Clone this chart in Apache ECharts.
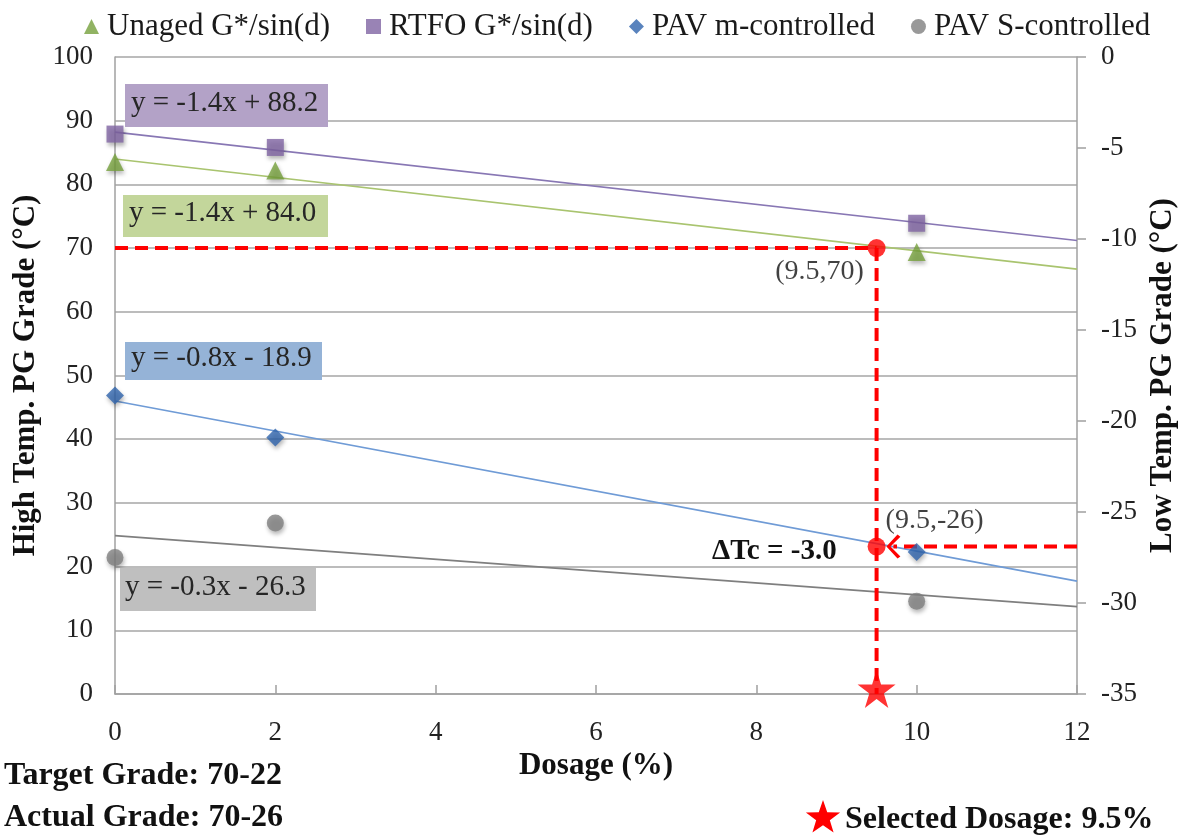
<!DOCTYPE html>
<html>
<head>
<meta charset="utf-8">
<script src="https://cdn.jsdelivr.net/npm/echarts@6/dist/echarts.min.js"></script>
<style>
html,body{margin:0;padding:0;background:#fff;}
#chart{width:1188px;height:836px;}
</style>
</head>
<body>
<div id="chart"></div>
<script>
// ---- data ----
const dosage = [0, 2, 10];
const unaged = [83.5, 82.2, 69.4];        // left axis, deg C
const rtfo = [87.9, 85.8, 73.9];          // left axis, deg C
const pavM = [-18.6, -20.9, -27.2];       // right axis, deg C
const pavS = [-27.5, -25.6, -29.9];       // right axis, deg C
const trendX = [0, 12];
const unagedTrend = [84.0, 66.7];
const rtfoTrend = [88.2, 71.2];
const pavMTrend = [-18.9, -28.8];
const pavSTrend = [-26.3, -30.2];
const selectedDosage = 9.5;
const targetHigh = 70;
const lowAtSelected = -26.9;
const arrowTipX = 9.71;
const xMax = 12;

const FONT = "'Liberation Serif','Times New Roman',serif";
const pair = (xs, ys) => xs.map((x, i) => [x, ys[i]]);
const STAR = 'path://M50,0 L61.2,34.5 L97.6,34.5 L68.2,55.9 L79.4,90.5 L50,69.1 L20.6,90.5 L31.8,55.9 L2.4,34.5 L38.8,34.5 Z';
const CHEV = 'path://M9.5,0 L12,2 L3.5,11 L12,20 L9.5,22 L0,11 Z';
const red = '#ff0000';
const shadow = {shadowBlur: 4, shadowColor: 'rgba(0,0,0,0.35)', shadowOffsetX: 1, shadowOffsetY: 3};

// star outline for the "Selected Dosage" annotation (decoration, not data)
function starPoints(cx, cy, R, r) {
  const pts = [];
  for (let i = 0; i < 10; i++) {
    const a = -Math.PI / 2 + i * Math.PI / 5;
    const rad = i % 2 === 0 ? R : r;
    pts.push([cx + rad * Math.cos(a), cy + rad * Math.sin(a)]);
  }
  return pts;
}

const chart = echarts.init(document.getElementById('chart'));
const option = {
  animation: false,
  backgroundColor: '#fff',
  textStyle: {fontFamily: FONT},
  grid: {left: 115, right: 111, top: 57, bottom: 142},
  legend: {
    left: 79, top: 6, itemGap: 36, itemWidth: 15, itemHeight: 15,
    itemStyle: {shadowBlur: 0, shadowOffsetX: 0, shadowOffsetY: 0},
    textStyle: {fontFamily: FONT, fontSize: 31, color: '#1a1a1a', padding: [0, 0, 0, 3]},
    data: ['Unaged G*/sin(d)', 'RTFO G*/sin(d)', 'PAV m-controlled', 'PAV S-controlled']
  },
  xAxis: {
    type: 'value', min: 0, max: xMax, interval: 2,
    name: 'Dosage (%)', nameLocation: 'middle', nameGap: 48,
    nameTextStyle: {fontFamily: FONT, fontSize: 31, fontWeight: 'bold', color: '#111'},
    axisLine: {lineStyle: {color: '#a0a0a0', width: 1.5}},
    axisTick: {show: true, inside: true, length: 9, lineStyle: {color: '#a0a0a0', width: 1.5}},
    axisLabel: {fontFamily: FONT, fontSize: 27, color: '#222', margin: 25},
    splitLine: {show: false}
  },
  yAxis: [{
    type: 'value', min: 0, max: 100, interval: 10, position: 'left',
    name: 'High Temp. PG Grade (°C)', nameLocation: 'middle', nameGap: 66,
    nameTextStyle: {fontFamily: FONT, fontSize: 31, fontWeight: 'bold', color: '#111'},
    axisLine: {show: true, lineStyle: {color: '#a0a0a0', width: 1.5}},
    axisTick: {show: false},
    axisLabel: {fontFamily: FONT, fontSize: 27, color: '#222', margin: 22},
    splitLine: {show: true, lineStyle: {color: '#a6a6a6', width: 1.5}}
  }, {
    type: 'value', min: -35, max: 0, interval: 5, position: 'right',
    name: 'Low Temp. PG Grade (°C)', nameLocation: 'middle', nameGap: 70,
    nameTextStyle: {fontFamily: FONT, fontSize: 31, fontWeight: 'bold', color: '#111'},
    axisLine: {show: true, lineStyle: {color: '#a0a0a0', width: 1.5}},
    axisTick: {show: true, length: 9, lineStyle: {color: '#a0a0a0', width: 1.5}},
    axisLabel: {fontFamily: FONT, fontSize: 27, color: '#222', margin: 24},
    splitLine: {show: false}
  }],
  series: [
    // trendlines
    {type: 'line', data: pair(trendX, rtfoTrend), symbol: 'none', silent: true, z: 2,
     lineStyle: {color: '#8877b4', width: 1.6}},
    {type: 'line', data: pair(trendX, unagedTrend), symbol: 'none', silent: true, z: 2,
     lineStyle: {color: '#a9c46f', width: 1.6}},
    {type: 'line', yAxisIndex: 1, data: pair(trendX, pavMTrend), symbol: 'none', silent: true, z: 2,
     lineStyle: {color: '#6f9bd6', width: 1.6}},
    {type: 'line', yAxisIndex: 1, data: pair(trendX, pavSTrend), symbol: 'none', silent: true, z: 2,
     lineStyle: {color: '#7f7f7f', width: 1.6}},
    // red guide lines
    {type: 'line', data: [[0, targetHigh], [selectedDosage, targetHigh]], symbol: 'none', z: 4,
     lineStyle: {color: red, width: 4, type: [13, 7]}},
    {type: 'line', data: [[selectedDosage, targetHigh], [selectedDosage, 0]], symbol: 'none', z: 4,
     lineStyle: {color: red, width: 4, type: [13, 7]}},
    {type: 'line', yAxisIndex: 1, z: 4,
     data: [{value: [xMax, lowAtSelected], symbol: 'none'},
            {value: [arrowTipX, lowAtSelected], symbol: CHEV, symbolSize: [14, 24]}],
     itemStyle: {color: red}, lineStyle: {color: red, width: 4, type: [13, 7]}},
    // scatter series
    {name: 'Unaged G*/sin(d)', type: 'scatter', data: pair(dosage, unaged), symbol: 'triangle', symbolSize: 18, z: 5,
     itemStyle: Object.assign({color: '#76a03c'}, shadow)},
    {name: 'RTFO G*/sin(d)', type: 'scatter', data: pair(dosage, rtfo), symbol: 'rect', symbolSize: 17, z: 5,
     itemStyle: Object.assign({color: '#8064a2'}, shadow)},
    {name: 'PAV m-controlled', type: 'scatter', yAxisIndex: 1, data: pair(dosage, pavM), symbol: 'diamond', symbolSize: 18, z: 5,
     itemStyle: Object.assign({color: '#2f64ad'}, shadow)},
    {name: 'PAV S-controlled', type: 'scatter', yAxisIndex: 1, data: pair(dosage, pavS), symbol: 'circle', symbolSize: 17, z: 5,
     itemStyle: Object.assign({color: '#808080'}, shadow)},
    // selected points
    {type: 'scatter', data: [[selectedDosage, targetHigh]], symbol: 'circle', symbolSize: 18, z: 6,
     itemStyle: {color: red},
     label: {show: true, position: 'bottom', offset: [-57, -4], formatter: '(9.5,70)',
             fontFamily: FONT, fontSize: 28, color: '#111'}},
    {type: 'scatter', yAxisIndex: 1, data: [[selectedDosage, lowAtSelected]], symbol: 'circle', symbolSize: 18, z: 6,
     itemStyle: {color: red},
     label: {show: true, position: 'top', offset: [58, 2], formatter: '(9.5,-26)',
             fontFamily: FONT, fontSize: 28, color: '#111'}},
    {type: 'scatter', data: [[selectedDosage, 0]], symbol: STAR, symbolSize: 38, symbolOffset: [0, -5], z: 7,
     itemStyle: {color: red}}
  ],
  graphic: [
    {type: 'rect', left: 125, top: 84, shape: {width: 203, height: 43}, style: {fill: '#b3a2c7'}, z: 10},
    {type: 'text', left: 131, top: 89, style: {text: 'y = -1.4x + 88.2', font: '29px ' + FONT, fill: '#262626'}, z: 11},
    {type: 'rect', left: 123, top: 195, shape: {width: 205, height: 42}, style: {fill: '#c3d69b'}, z: 10},
    {type: 'text', left: 129, top: 199, style: {text: 'y = -1.4x + 84.0', font: '29px ' + FONT, fill: '#262626'}, z: 11},
    {type: 'rect', left: 125, top: 342, shape: {width: 197, height: 38}, style: {fill: '#95b3d7'}, z: 10},
    {type: 'text', left: 131, top: 344, style: {text: 'y = -0.8x - 18.9', font: '29px ' + FONT, fill: '#262626'}, z: 11},
    {type: 'rect', left: 120, top: 568, shape: {width: 196, height: 43}, style: {fill: '#bfbfbf'}, z: 10},
    {type: 'text', left: 125, top: 573, style: {text: 'y = -0.3x - 26.3', font: '29px ' + FONT, fill: '#262626'}, z: 11},
    {type: 'text', left: 712, top: 537, style: {text: 'ΔTc = -3.0', font: 'bold 29px ' + FONT, fill: '#111'}, z: 11},
    {type: 'text', left: 4, top: 760, style: {text: 'Target Grade: 70-22', font: 'bold 32px ' + FONT, fill: '#111'}, z: 11},
    {type: 'text', left: 4, top: 802, style: {text: 'Actual Grade: 70-26', font: 'bold 32px ' + FONT, fill: '#111'}, z: 11},
    {type: 'text', left: 845, top: 804, style: {text: 'Selected Dosage: 9.5%', font: 'bold 32px ' + FONT, fill: '#111'}, z: 11},
    {type: 'polygon', z: 11, shape: {points: starPoints(823, 818, 18, 7.2)}, style: {fill: red}}
  ]
};
chart.setOption(option);
</script>
</body>
</html>
